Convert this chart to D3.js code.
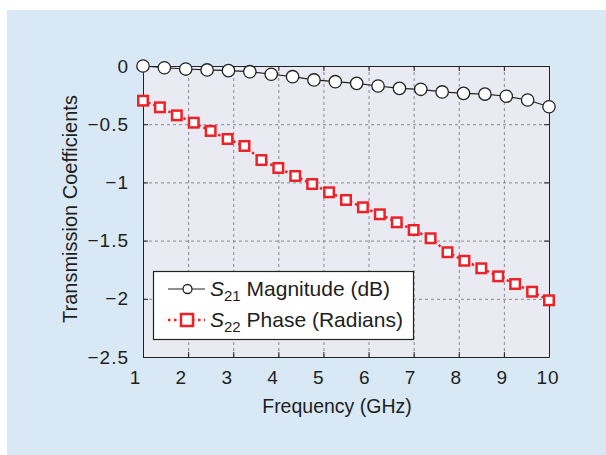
<!DOCTYPE html>
<html>
<head>
<meta charset="utf-8">
<script src="https://cdn.jsdelivr.net/npm/d3@7"></script>
<style>
  body { margin: 0; background: #fff; }
  svg { display: block; font-family: "Liberation Sans", Arial, sans-serif; }
</style>
</head>
<body>
<script>
// S21 magnitude (dB), 20 points from 1 to 10 GHz
const s21 = [0, -0.015, -0.026, -0.034, -0.04, -0.049, -0.071, -0.092, -0.12, -0.135,
  -0.149, -0.172, -0.192, -0.2, -0.223, -0.235, -0.241, -0.26, -0.292, -0.35];
// S22 phase (radians), 25 points from 1 to 10 GHz
const s22 = [-0.298, -0.355, -0.424, -0.487, -0.558, -0.627, -0.687, -0.808, -0.876, -0.945,
  -1.014, -1.085, -1.151, -1.214, -1.274, -1.343, -1.409, -1.48, -1.60, -1.673,
  -1.738, -1.807, -1.873, -1.939, -2.013];
const xTicks = [1, 2, 3, 4, 5, 6, 7, 8, 9, 10];
const yTicks = [0, -0.5, -1, -1.5, -2, -2.5];

const width = 606, height = 455;
const svg = d3.select("body").append("svg").attr("width", width).attr("height", height);

svg.append("rect").attr("x", 7).attr("y", 10).attr("width", width - 7).attr("height", height - 10)
  .attr("fill", "#d9e8f5");

const x = d3.scaleLinear([1, 10], [143, 549]);
const y = d3.scaleLinear([-2.5, 0], [357, 66]);
// tick labels sit on a slightly narrower span than the ticks themselves
const xl = d3.scaleLinear([1, 10], [135, 547.5]);
const fr = (n) => d3.range(n).map(i => 1 + i * 9 / (n - 1));

svg.append("rect").attr("x", x(1)).attr("y", y(0)).attr("width", x(10) - x(1)).attr("height", y(-2.5) - y(0))
  .attr("fill", "#eaeaf3");

// grid
const grid = svg.append("g").attr("stroke", "#8a8a8a").attr("stroke-width", 1).attr("stroke-dasharray", "3,3");
grid.selectAll(".gx").data(xTicks.slice(1, -1)).join("line")
  .attr("x1", d => x(d) + 0.5).attr("x2", d => x(d) + 0.5).attr("y1", y(0)).attr("y2", y(-2.5));
grid.selectAll(".gy").data(yTicks.slice(1, -1)).join("line")
  .attr("y1", d => y(d) + 0.5).attr("y2", d => y(d) + 0.5).attr("x1", x(1)).attr("x2", x(10));

// axes
const axisStyle = g => g.call(g => g.selectAll("text").attr("font-size", 19).attr("letter-spacing", 1).attr("fill", "#1e1e1e"))
  .call(g => g.selectAll("line,path").attr("stroke", "#222"));
const fmt = d => d3.format("")(d).replace("-", "\u2212");

svg.append("g").attr("transform", `translate(0,${y(-2.5)})`)
  .call(d3.axisBottom(x).tickValues(xTicks).tickSize(-5).tickSizeOuter(0).tickPadding(14))
  .call(axisStyle)
  .call(g => g.selectAll(".tick text").attr("dx", d => xl(d) - x(d)));
svg.append("g").attr("transform", `translate(${x(1)},0)`)
  .call(d3.axisLeft(y).tickValues(yTicks).tickSize(-5).tickSizeOuter(0).tickPadding(14).tickFormat(fmt))
  .call(axisStyle);
svg.append("g").attr("transform", `translate(0,${y(0)})`)
  .call(d3.axisTop(x).tickValues(xTicks).tickSize(-5).tickSizeOuter(0).tickFormat(""))
  .call(axisStyle);
svg.append("g").attr("transform", `translate(${x(10)},0)`)
  .call(d3.axisRight(y).tickValues(yTicks).tickSize(-5).tickSizeOuter(0).tickFormat(""))
  .call(axisStyle);

// S22 series
const f22 = fr(s22.length);
svg.append("path").datum(s22)
  .attr("fill", "none").attr("stroke", "#ec2229").attr("stroke-width", 2.5).attr("stroke-dasharray", "2.5,3")
  .attr("d", d3.line().x((d, i) => x(f22[i])).y(d => y(d)));
svg.append("g").selectAll("rect").data(s22).join("rect")
  .attr("x", (d, i) => x(f22[i]) - 4.75).attr("y", d => y(d) - 4.75)
  .attr("width", 9.5).attr("height", 9.5)
  .attr("fill", "#fff").attr("stroke", "#ec2229").attr("stroke-width", 2.5);

// S21 series
const f21 = fr(s21.length);
svg.append("path").datum(s21)
  .attr("fill", "none").attr("stroke", "#222").attr("stroke-width", 1.2)
  .attr("d", d3.line().x((d, i) => x(f21[i])).y(d => y(d)));
svg.append("g").selectAll("circle").data(s21).join("circle")
  .attr("cx", (d, i) => x(f21[i])).attr("cy", d => y(d)).attr("r", 6.2)
  .attr("fill", "#fff").attr("stroke", "#222").attr("stroke-width", 1.3);

// labels
svg.append("text").attr("x", 337).attr("y", 413).attr("text-anchor", "middle")
  .attr("font-size", 19.5).attr("fill", "#1e1e1e").text("Frequency (GHz)");
svg.append("text").attr("transform", `translate(77,209) rotate(-90)`)
  .attr("text-anchor", "middle").attr("font-size", 20).attr("fill", "#1e1e1e").text("Transmission Coefficients");

// legend
const lg = svg.append("g");
lg.append("rect").attr("x", 153.5).attr("y", 271.5).attr("width", 260).attr("height", 68)
  .attr("fill", "#fff").attr("stroke", "#222").attr("stroke-width", 1.2);
const legend = [
  { name: "21", rest: " Magnitude (dB)", y: 289, kind: "circle" },
  { name: "22", rest: " Phase (Radians)", y: 320, kind: "square" }
];
legend.forEach(l => {
  if (l.kind === "circle") {
    lg.append("line").attr("x1", 168).attr("x2", 205).attr("y1", l.y).attr("y2", l.y)
      .attr("stroke", "#222").attr("stroke-width", 1.2);
    lg.append("circle").attr("cx", 187.5).attr("cy", l.y).attr("r", 4.5)
      .attr("fill", "#fff").attr("stroke", "#222").attr("stroke-width", 1.3);
  } else {
    lg.append("line").attr("x1", 168).attr("x2", 205).attr("y1", l.y).attr("y2", l.y)
      .attr("stroke", "#ec2229").attr("stroke-width", 2.5).attr("stroke-dasharray", "2.5,3.5");
    lg.append("rect").attr("x", 181).attr("y", l.y - 6).attr("width", 12).attr("height", 12)
      .attr("fill", "#fff").attr("stroke", "#ec2229").attr("stroke-width", 2.5);
  }
  const t = lg.append("text").attr("x", 210).attr("y", l.y + 6.5).attr("font-size", 21).attr("fill", "#1e1e1e");
  t.append("tspan").attr("font-style", "italic").text("S");
  t.append("tspan").attr("font-size", 15).attr("dy", 5).text(l.name);
  t.append("tspan").attr("dy", -5).text(l.rest);
});
</script>
</body>
</html>
